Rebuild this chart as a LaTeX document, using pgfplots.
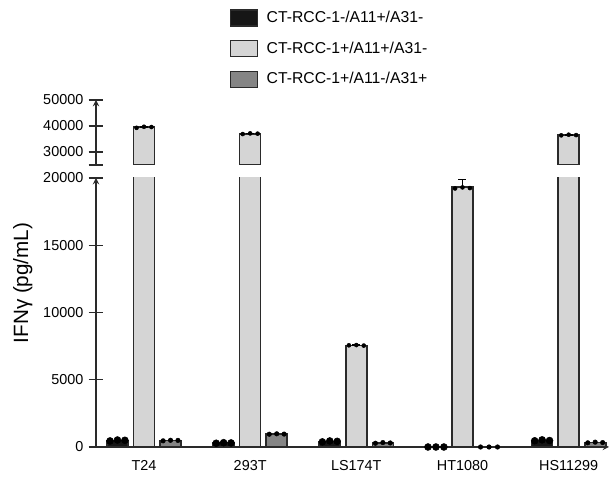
\documentclass[border=0pt]{standalone}
\usepackage{fontspec}
\setmainfont{Liberation Sans}
\usepackage{pgfplots}
\pgfplotsset{compat=1.18}
\definecolor{cblack}{HTML}{161616}
\definecolor{clight}{HTML}{D5D5D5}
\definecolor{cgray}{HTML}{858585}
\definecolor{cline}{HTML}{2A2A2A}
\begin{document}
\begin{tikzpicture}
\useasboundingbox (0,0) rectangle (460.5pt,357.75pt);
\pgfplotsset{
  common/.style={
    scale only axis, width=384.75pt,
    xmin=-0.452, xmax=4.38,
    axis line style={cline, line width=1.1pt, -},
    every tick/.style={cline, line width=1.1pt},
    major tick length=11pt, tick align=outside,
    yticklabel style={font=\fontsize{10.8}{12}\selectfont, xshift=-0.5pt},
    xticklabel style={font=\fontsize{10.8}{12}\selectfont},
    /pgf/number format/assume math mode=true,
    /pgf/number format/.cd, 1000 sep={}, /pgfplots/.cd,
    scaled y ticks=false,
  },
  barblack/.style={ybar, bar width=15.75pt, bar shift=0pt, fill=cblack, draw=cline, line width=1.2pt},
  barlight/.style={ybar, bar width=15.75pt, bar shift=0pt, fill=clight, draw=cline, line width=1.2pt,
    error bars/.cd, y dir=plus, y explicit,
    error bar style={line width=1.1pt, black},
    error mark options={rotate=90, mark size=3pt, line width=1.1pt, black}, /pgfplots/.cd},
  bargray/.style={ybar, bar width=15.75pt, bar shift=0pt, fill=cgray, draw=cline, line width=1.2pt},
  dotbig/.style={only marks, mark=*, mark size=2.6pt, mark options={black, fill=black}},
  dotsmall/.style={only marks, mark=*, mark size=1.5pt, mark options={black, fill=black}},
}
% lower axis
\begin{axis}[common,
  at={(72pt,22.5pt)}, anchor=south west, height=201.75pt,
  ymin=0, ymax=20000,
  axis x line=bottom, axis y line=left,
  ytick={0,5000,10000,15000},
  extra y ticks={20000},
  extra tick style={tick align=center},
  xtick={0,1,2,3,4},
  xticklabels={T24,293T,LS174T,HT1080,HS11299},
  x tick style={draw=none},
  xticklabel style={yshift=-1pt},
  legend style={at={(rel axis cs:0.261,1.628)}, anchor=north west, draw=none, fill=none,
    font=\fontsize{11.8}{14}\selectfont, row sep=10.1pt, inner sep=0pt,
    nodes={inner sep=1pt},
    /tikz/every odd column/.append style={column sep=5.5pt}},
  legend cell align=left,
  legend image code/.code={\draw[#1,/tikz/.cd,line width=0.9pt] (0pt,-6pt) rectangle (20pt,6pt);},
]
\addplot[barblack] coordinates {(-0.25,480) (0.75,300) (1.75,420) (2.75,0) (3.75,480)};
\addplot[barlight] coordinates {(0,39500) +- (0,200) (1,37000) +- (0,150) (2,7550) +- (0,30) (3,19350) +- (0,550) (4,36500) +- (0,100)};
\addplot[bargray] coordinates {(0.25,480) (1.25,960) (2.25,300) (3.25,0) (4.25,330)};
\legend{CT-RCC-1-/A11+/A31-, CT-RCC-1+/A11+/A31-, CT-RCC-1+/A11-/A31+}
\end{axis}
% overlay for dots in lower range
\begin{axis}[common,
  at={(72pt,22.5pt)}, anchor=south west, height=201.75pt,
  ymin=0, ymax=20000, hide axis, clip=false]
\addplot[dotbig] coordinates {
  (-0.32,450) (-0.25,520) (-0.18,500)
  (0.68,280) (0.75,320) (0.82,300)
  (1.68,380) (1.75,450) (1.82,420)
  (2.675,0) (2.75,0) (2.825,0)
  (3.68,460) (3.75,530) (3.82,480)};
\addplot[dotsmall] coordinates {
  (2.07,7540) (2.0,7580) (1.93,7560)
  (3.07,19250) (3.0,19300) (2.93,19220)};
\addplot[dotsmall, mark size=1.7pt] coordinates {
  (0.18,460) (0.25,500) (0.32,490)
  (1.18,950) (1.25,980) (1.32,960)
  (2.18,280) (2.25,330) (2.32,300)
  (3.17,0) (3.25,0) (3.33,0)
  (4.18,310) (4.25,360) (4.32,330)};
\end{axis}
% upper axis
\begin{axis}[common,
  at={(72pt,234pt)}, anchor=south west, height=48.75pt,
  ymin=25000, ymax=50000,
  axis x line=none, axis y line=left,
  ytick={30000,40000,50000},
  extra y ticks={25000}, extra y tick labels={},
  extra tick style={tick align=center},
]
\addplot[forget plot, barlight] coordinates {(0,39500) +- (0,200) (1,37000) +- (0,150) (4,36500) +- (0,100)};
\addplot[dotsmall] coordinates {
  (-0.07,39300) (0,39700) (0.07,39600)
  (0.93,36900) (1,37150) (1.07,37050)
  (3.93,36400) (4,36650) (4.07,36500)};
\end{axis}
\node[rotate=90, font=\fontsize{15.5}{18}\selectfont] at (17pt,145.5pt) {IFNγ (pg/mL)};
\end{tikzpicture}
\end{document}
